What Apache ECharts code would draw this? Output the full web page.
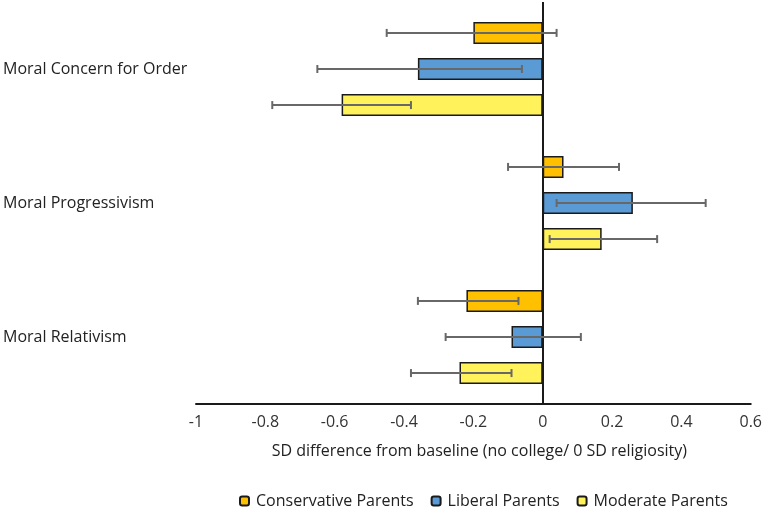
<!DOCTYPE html>
<html>
<head>
<meta charset="utf-8">
<script src="https://cdn.jsdelivr.net/npm/echarts@6/dist/echarts.min.js"></script>
<style>html,body{margin:0;padding:0;background:#fff}#c{width:765px;height:510px}</style>
</head>
<body>
<div id="c"></div>
<script>
var categories = ['Moral Concern for Order', 'Moral Progressivism', 'Moral Relativism'];
var seriesNames = ['Conservative Parents', 'Liberal Parents', 'Moderate Parents'];
var conservative = [-0.20, 0.06, -0.22];
var conservativeLow = [-0.45, -0.10, -0.36];
var conservativeHigh = [0.04, 0.22, -0.07];
var liberal = [-0.36, 0.26, -0.09];
var liberalLow = [-0.65, 0.04, -0.28];
var liberalHigh = [-0.06, 0.47, 0.11];
var moderate = [-0.58, 0.17, -0.24];
var moderateLow = [-0.78, 0.02, -0.38];
var moderateHigh = [-0.38, 0.33, -0.09];
var xTicks = [-1, -0.8, -0.6, -0.4, -0.2, 0, 0.2, 0.4, 0.6];

var colors = ['#FFC000', '#5B9BD5', '#FFF25A'];
var values = [conservative, liberal, moderate];
var lows = [conservativeLow, liberalLow, moderateLow];
var highs = [conservativeHigh, liberalHigh, moderateHigh];
var BAR_W = 22, BAR_GAP = 0.64;
var pitch = BAR_W * (1 + BAR_GAP);
var FONT = 'Open Sans';

var chart = echarts.init(document.getElementById('c'));
var series = [];
for (var k = 0; k < 3; k++) {
  var s = {
    type: 'bar', name: seriesNames[k], data: values[k],
    barWidth: BAR_W, barGap: (BAR_GAP * 100) + '%',
    itemStyle: {color: colors[k], borderColor: '#1a1a1a', borderWidth: 1.5},
    z: 2
  };
  if (k === 0) {
    s.markLine = {
      silent: true, symbol: ['none', 'none'], label: {show: false},
      lineStyle: {color: '#1a1a1a', width: 2, type: 'solid'},
      data: [{xAxis: 0}], z: 5
    };
  }
  series.push(s);
}
for (var k2 = 0; k2 < 3; k2++) {
  (function (k) {
    var d = [];
    for (var i = 0; i < categories.length; i++) d.push([i, lows[k][i], highs[k][i]]);
    series.push({
      type: 'custom', name: seriesNames[k] + ' err', data: d, z: 10, silent: true,
      encode: {x: [1, 2], y: 0},
      renderItem: function (params, api) {
        var cat = api.value(0);
        var p1 = api.coord([api.value(1), cat]);
        var p2 = api.coord([api.value(2), cat]);
        var y = p1[1] + (k - 1) * pitch;
        var cap = 4;
        var st = {stroke: '#686868', lineWidth: 2};
        return {type: 'group', children: [
          {type: 'line', shape: {x1: p1[0], y1: y, x2: p2[0], y2: y}, style: st},
          {type: 'line', shape: {x1: p1[0], y1: y - cap, x2: p1[0], y2: y + cap}, style: st},
          {type: 'line', shape: {x1: p2[0], y1: y - cap, x2: p2[0], y2: y + cap}, style: st}
        ]};
      }
    });
  })(k2);
}

chart.setOption({
  animation: false,
  textStyle: {fontFamily: FONT},
  grid: {left: 196, right: 14, top: 2, bottom: 106},
  legend: {
    data: seriesNames, left: 234, top: 488, itemWidth: 9, itemHeight: 9, itemGap: 17,
    textStyle: {fontFamily: FONT, fontSize: 16, color: '#222', padding: [0, 0, 0, 2]}
  },
  xAxis: {
    type: 'value', min: xTicks[0], max: xTicks[xTicks.length - 1], interval: 0.2,
    axisLine: {show: true, onZero: false, lineStyle: {color: '#1a1a1a', width: 2}},
    axisTick: {show: false}, splitLine: {show: false},
    axisLabel: {fontFamily: FONT, fontSize: 16, color: '#333', margin: 10},
    name: 'SD difference from baseline (no college/ 0 SD religiosity)',
    nameLocation: 'middle', nameGap: 39,
    nameTextStyle: {fontFamily: FONT, fontSize: 16, color: '#222', padding: [0, 0, 0, 12]}
  },
  yAxis: {
    type: 'category', data: categories, inverse: true,
    axisLine: {show: false}, axisTick: {show: false},
    axisLabel: {fontFamily: FONT, fontSize: 16, color: '#222', align: 'left', margin: 193}
  },
  series: series
});
</script>
</body>
</html>
